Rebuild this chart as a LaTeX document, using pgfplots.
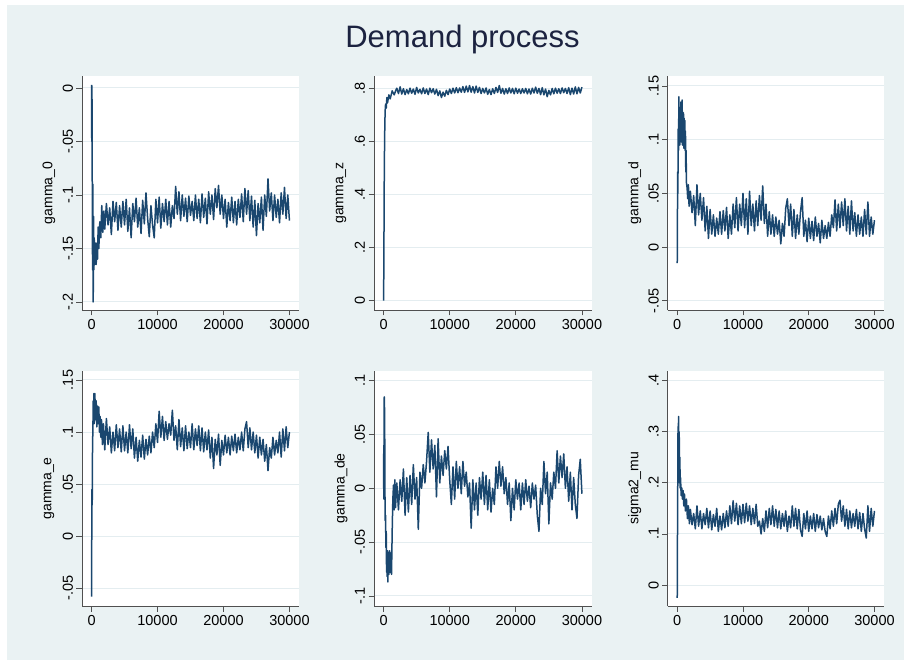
\documentclass[border=0pt]{standalone}
\usepackage{fontspec}
\setmainfont{Liberation Sans}
\usepackage{pgfplots}
\pgfplotsset{compat=1.18}
\definecolor{statabg}{HTML}{EAF2F3}
\definecolor{statanavy}{HTML}{1A476F}
\definecolor{gridc}{HTML}{E4EDF0}
\definecolor{axc}{HTML}{505050}
\definecolor{titc}{HTML}{1C2340}
\pgfplotsset{
  tr/.style={
    scale only axis, anchor=south west,
    axis lines*=left, axis line style={-, axc, line width=0.9bp},
    axis background/.style={fill=white},
    xmin=-1450, xmax=31450,
    xtick={0,10000,20000,30000}, xticklabels={0,10000,20000,30000},
    scaled x ticks=false, scaled y ticks=false,
    tick align=outside, major tick length=5.5bp,
    tick style={axc, line width=0.8bp},
    ymajorgrids, grid style={gridc, line width=1bp},
    ticklabel style={font=\fontsize{14.5bp}{16bp}\selectfont, text=black},
    yticklabel style={rotate=90, anchor=south},
    every axis y label/.style={at={(axis description cs:-0.152,0.5)}, rotate=90, anchor=center, font=\fontsize{14bp}{16bp}\selectfont, text=black},
  },
  trl/.style={statanavy, line width=1.5bp, line join=round}
}
\begin{document}
\begin{tikzpicture}
\useasboundingbox (0,0) rectangle (905bp,661bp);
\fill[white] (0,0) rectangle (905bp,661bp);
\fill[statabg] (7bp,1bp) rectangle (904bp,656bp);
\node[anchor=base, font=\fontsize{31bp}{34bp}\selectfont, text=titc] at (462.5bp,613.5bp) {Demand process};

% Panel 1: gamma_0
\begin{axis}[tr, at={(82bp,351bp)}, width=217bp, height=234bp,
  ymin=-0.2075, ymax=0.0112,
  ytick={-0.2,-0.15,-0.1,-0.05,0}, yticklabels={-.2,-.15,-.1,-.05,0},
  ylabel={gamma\_0}]
\addplot[trl] coordinates {
(0,0.003)(30,-0.05)(60,0.002)(100,-0.08)(150,-0.17)(200,-0.09)(250,-0.2)(300,-0.12)(350,-0.17)(400,-0.14)(500,-0.165)(600,-0.145)(700,-0.165)(800,-0.145)(900,-0.16)(1000,-0.13)(1100,-0.15)(1250,-0.125)(1400,-0.14)(1550,-0.11)(1700,-0.135)(1850,-0.115)
(2000,-0.132)(2250,-0.108)(2500,-0.128)(2750,-0.112)(3000,-0.137)(3250,-0.106)(3500,-0.125)(3750,-0.107)(4000,-0.133)(4250,-0.110)(4500,-0.130)(4750,-0.106)
(5000,-0.128)(5250,-0.104)(5500,-0.134)(5750,-0.112)(6000,-0.140)(6250,-0.108)(6500,-0.125)(6750,-0.103)(7000,-0.130)(7250,-0.112)(7500,-0.136)(7750,-0.105)
(8000,-0.127)(8250,-0.098)(8500,-0.122)(8750,-0.139)(9000,-0.110)(9250,-0.128)(9500,-0.140)(9750,-0.104)(10000,-0.126)(10250,-0.102)(10500,-0.131)(10750,-0.108)
(11000,-0.125)(11250,-0.104)(11500,-0.128)(11750,-0.106)(12000,-0.130)(12250,-0.110)(12500,-0.122)(12750,-0.092)(13000,-0.118)(13250,-0.097)(13500,-0.124)(13750,-0.100)
(14000,-0.120)(14250,-0.103)(14500,-0.125)(14750,-0.101)(15000,-0.119)(15250,-0.106)(15500,-0.124)(15750,-0.100)(16000,-0.122)(16250,-0.104)(16500,-0.126)(16750,-0.099)
(17000,-0.121)(17250,-0.103)(17500,-0.127)(17750,-0.097)(18000,-0.118)(18250,-0.100)(18500,-0.123)(18750,-0.094)(19000,-0.112)(19250,-0.091)(19500,-0.118)(19750,-0.100)
(20000,-0.122)(20250,-0.104)(20500,-0.130)(20750,-0.107)(21000,-0.124)(21250,-0.102)(21500,-0.126)(21750,-0.106)(22000,-0.128)(22250,-0.104)(22500,-0.121)(22750,-0.099)
(23000,-0.125)(23250,-0.094)(23500,-0.118)(23750,-0.096)(24000,-0.124)(24250,-0.101)(24500,-0.130)(24750,-0.105)(25000,-0.138)(25250,-0.108)(25500,-0.126)(25750,-0.102)
(26000,-0.133)(26250,-0.100)(26500,-0.120)(26750,-0.085)(27000,-0.115)(27250,-0.098)(27500,-0.124)(27750,-0.100)(28000,-0.121)(28250,-0.104)(28500,-0.126)(28750,-0.098)
(29000,-0.118)(29250,-0.093)(29500,-0.122)(29750,-0.100)(30000,-0.124)
};
\end{axis}

% Panel 2: gamma_z
\begin{axis}[tr, at={(374bp,351bp)}, width=217.5bp, height=234bp,
  ymin=-0.035, ymax=0.846,
  ytick={0,0.2,0.4,0.6,0.8}, yticklabels={0,.2,.4,.6,.8},
  ylabel={gamma\_z}]
\addplot[trl] coordinates {
(0,0)(30,0.1)(60,0.25)(100,0.45)(150,0.6)(200,0.68)(250,0.72)(300,0.74)(400,0.725)(500,0.765)(600,0.745)(800,0.775)(1000,0.76)(1300,0.79)(1600,0.775)(1900,0.795)
(2000,0.800)(2250,0.780)(2500,0.805)(2750,0.778)(3000,0.798)(3250,0.776)(3500,0.795)(3750,0.779)(4000,0.800)(4250,0.781)(4500,0.797)(4750,0.777)
(5000,0.803)(5250,0.782)(5500,0.796)(5750,0.779)(6000,0.801)(6250,0.780)(6500,0.797)(6750,0.776)(7000,0.800)(7250,0.783)(7500,0.798)(7750,0.778)
(8000,0.796)(8250,0.772)(8500,0.790)(8750,0.765)(9000,0.785)(9250,0.770)(9500,0.792)(9750,0.776)(10000,0.797)(10250,0.780)(10500,0.800)(10750,0.782)
(11000,0.802)(11250,0.783)(11500,0.801)(11750,0.785)(12000,0.806)(12250,0.784)(12500,0.808)(12750,0.786)(13000,0.810)(13250,0.785)(13500,0.806)(13750,0.782)
(14000,0.808)(14250,0.784)(14500,0.803)(14750,0.780)(15000,0.799)(15250,0.782)(15500,0.801)(15750,0.777)(16000,0.795)(16250,0.776)(16500,0.798)(16750,0.780)
(17000,0.803)(17250,0.784)(17500,0.810)(17750,0.781)(18000,0.799)(18250,0.778)(18500,0.798)(18750,0.780)(19000,0.801)(19250,0.782)(19500,0.799)(19750,0.779)
(20000,0.800)(20250,0.781)(20500,0.797)(20750,0.780)(21000,0.798)(21250,0.782)(21500,0.799)(21750,0.779)(22000,0.797)(22250,0.778)(22500,0.800)(22750,0.782)
(23000,0.804)(23250,0.781)(23500,0.799)(23750,0.776)(24000,0.802)(24250,0.775)(24500,0.797)(24750,0.768)(25000,0.792)(25250,0.775)(25500,0.799)(25750,0.779)
(26000,0.800)(26250,0.781)(26500,0.798)(26750,0.780)(27000,0.801)(27250,0.783)(27500,0.799)(27750,0.780)(28000,0.802)(28250,0.776)(28500,0.800)(28750,0.778)
(29000,0.805)(29250,0.779)(29500,0.803)(29750,0.782)(30000,0.804)
};
\end{axis}

% Panel 3: gamma_d
\begin{axis}[tr, at={(667.7bp,351bp)}, width=216.3bp, height=234bp,
  ymin=-0.0586, ymax=0.1593,
  ytick={-0.05,0,0.05,0.1,0.15}, yticklabels={-.05,0,.05,.1,.15},
  ylabel={gamma\_d}]
\addplot[trl] coordinates {
(0,-0.015)(30,0.02)(60,0.07)(100,0.05)(150,0.11)(200,0.09)(250,0.14)(300,0.10)(350,0.13)(400,0.095)(450,0.125)(500,0.105)(550,0.135)(600,0.098)(650,0.13)(700,0.10)(750,0.137)(800,0.095)(850,0.12)(900,0.10)(950,0.125)(1000,0.092)(1050,0.12)(1100,0.095)(1150,0.118)(1200,0.09)(1250,0.108)(1300,0.07)(1350,0.09)(1400,0.06)(1500,0.055)(1600,0.045)(1700,0.058)(1800,0.038)
(2000,0.052)(2250,0.032)(2500,0.048)(2750,0.020)(3000,0.058)(3250,0.030)(3500,0.050)(3750,0.025)(4000,0.046)(4250,0.015)(4500,0.038)(4750,0.008)
(5000,0.035)(5250,0.012)(5500,0.030)(5750,0.010)(6000,0.027)(6250,0.012)(6500,0.033)(6750,0.012)(7000,0.034)(7250,0.015)(7500,0.037)(7750,0.008)
(8000,0.030)(8250,0.012)(8500,0.040)(8750,0.018)(9000,0.046)(9250,0.015)(9500,0.040)(9750,0.020)(10000,0.050)(10250,0.018)(10500,0.045)(10750,0.012)
(11000,0.052)(11250,0.020)(11500,0.040)(11750,0.015)(12000,0.043)(12250,0.020)(12500,0.048)(12750,0.025)(13000,0.057)(13250,0.022)(13500,0.040)(13750,0.010)
(14000,0.033)(14250,0.012)(14500,0.030)(14750,0.010)(15000,0.028)(15250,0.012)(15500,0.025)(15750,0.003)(16000,0.022)(16250,0.010)(16500,0.036)(16750,0.045)
(17000,0.020)(17250,0.040)(17500,0.010)(17750,0.035)(18000,0.008)(18250,0.030)(18500,0.012)(18750,0.033)(19000,0.046)(19250,0.010)(19500,0.025)(19750,0.005)
(20000,0.027)(20250,0.008)(20500,0.024)(20750,0.006)(21000,0.028)(21250,0.010)(21500,0.022)(21750,0.004)(22000,0.025)(22250,0.008)(22500,0.020)(22750,0.008)
(23000,0.023)(23250,0.010)(23500,0.030)(23750,0.018)(24000,0.044)(24250,0.015)(24500,0.040)(24750,0.018)(25000,0.042)(25250,0.020)(25500,0.045)(25750,0.015)
(26000,0.038)(26250,0.012)(26500,0.043)(26750,0.015)(27000,0.032)(27250,0.010)(27500,0.030)(27750,0.012)(28000,0.028)(28250,0.010)(28500,0.035)(28750,0.012)
(29000,0.042)(29250,0.010)(29500,0.028)(29750,0.012)(30000,0.025)
};
\end{axis}

% Panel 4: gamma_e
\begin{axis}[tr, at={(82bp,55bp)}, width=217bp, height=235.3bp,
  ymin=-0.067, ymax=0.1589,
  ytick={-0.05,0,0.05,0.1,0.15}, yticklabels={-.05,0,.05,.1,.15},
  ylabel={gamma\_e}]
\addplot[trl] coordinates {
(0,-0.058)(30,0.0)(60,0.045)(100,0.03)(150,0.09)(200,0.1)(250,0.13)(300,0.11)(350,0.137)(400,0.108)(500,0.137)(600,0.112)(700,0.13)(800,0.105)(900,0.125)(1000,0.108)(1100,0.124)(1200,0.10)(1300,0.115)(1400,0.095)(1500,0.112)(1650,0.088)(1800,0.108)
(2000,0.083)(2250,0.113)(2500,0.088)(2750,0.105)(3000,0.080)(3250,0.100)(3500,0.082)(3750,0.107)(4000,0.085)(4250,0.103)(4500,0.081)(4750,0.106)
(5000,0.082)(5250,0.100)(5500,0.080)(5750,0.107)(6000,0.084)(6250,0.103)(6500,0.075)(6750,0.095)(7000,0.072)(7250,0.092)(7500,0.076)(7750,0.097)
(8000,0.074)(8250,0.093)(8500,0.078)(8750,0.096)(9000,0.080)(9250,0.100)(9500,0.085)(9750,0.108)(10000,0.090)(10250,0.120)(10500,0.095)(10750,0.115)
(11000,0.092)(11250,0.110)(11500,0.093)(11750,0.108)(12000,0.097)(12250,0.121)(12500,0.092)(12750,0.106)(13000,0.083)(13250,0.112)(13500,0.086)(13750,0.104)
(14000,0.082)(14250,0.106)(14500,0.084)(14750,0.100)(15000,0.085)(15250,0.108)(15500,0.083)(15750,0.103)(16000,0.087)(16250,0.106)(16500,0.082)(16750,0.104)
(17000,0.081)(17250,0.100)(17500,0.083)(17750,0.102)(18000,0.075)(18250,0.095)(18500,0.065)(18750,0.093)(19000,0.078)(19250,0.098)(19500,0.068)(19750,0.092)
(20000,0.078)(20250,0.097)(20500,0.080)(20750,0.095)(21000,0.078)(21250,0.096)(21500,0.082)(21750,0.098)(22000,0.080)(22250,0.095)(22500,0.083)(22750,0.100)
(23000,0.082)(23250,0.103)(23500,0.110)(23750,0.085)(24000,0.104)(24250,0.083)(24500,0.100)(24750,0.080)(25000,0.097)(25250,0.075)(25500,0.095)(25750,0.078)
(26000,0.093)(26250,0.072)(26500,0.088)(26750,0.063)(27000,0.085)(27250,0.075)(27500,0.095)(27750,0.078)(28000,0.092)(28250,0.080)(28500,0.100)(28750,0.076)
(29000,0.103)(29250,0.082)(29500,0.105)(29750,0.085)(30000,0.100)
};
\end{axis}

% Panel 5: gamma_de
\begin{axis}[tr, at={(374bp,55bp)}, width=217.5bp, height=235.3bp,
  ymin=-0.1093, ymax=0.1093,
  ytick={-0.1,-0.05,0,0.05,0.1}, yticklabels={-.1,-.05,0,.05,.1},
  ylabel={gamma\_de}]
\addplot[trl] coordinates {
(0,0.0)(30,0.04)(60,-0.01)(100,0.085)(130,0.03)(160,0.075)(200,0.0)(250,-0.03)(300,-0.025)(350,-0.055)(400,-0.04)(450,-0.078)(500,-0.06)(550,-0.082)(600,-0.058)(650,-0.087)(700,-0.065)(800,-0.08)(900,-0.058)(1000,-0.078)(1100,-0.06)(1200,-0.08)(1300,-0.04)(1400,-0.01)(1500,0.003)(1600,-0.02)(1700,0.008)(1800,-0.018)
(2000,0.005)(2250,-0.02)(2500,0.008)(2750,-0.012)(3000,0.018)(3250,-0.025)(3500,0.01)(3750,-0.022)(4000,0.012)(4250,-0.015)(4500,0.022)(4750,-0.01)
(5000,0.01)(5250,-0.038)(5500,0.015)(5750,0.0)(6000,0.022)(6250,0.005)(6500,0.025)(6750,0.052)(7000,0.015)(7250,0.045)(7500,0.018)(7750,0.04)
(8000,-0.008)(8250,0.046)(8500,0.005)(8750,0.03)(9000,0.012)(9250,0.035)(9500,0.018)(9750,0.039)(10000,0.008)(10250,-0.015)(10500,0.02)(10750,-0.01)
(11000,0.025)(11250,0.0)(11500,0.02)(11750,-0.005)(12000,0.025)(12250,0.002)(12500,0.015)(12750,-0.008)(13000,0.005)(13250,-0.037)(13500,0.008)(13750,-0.02)
(14000,0.005)(14250,-0.025)(14500,0.01)(14750,-0.01)(15000,0.015)(15250,-0.015)(15500,0.012)(15750,-0.02)(16000,0.008)(16250,-0.022)(16500,0.0)(16750,-0.015)
(17000,0.02)(17250,0.0)(17500,0.025)(17750,0.002)(18000,0.02)(18250,-0.005)(18500,0.01)(18750,-0.015)(19000,0.005)(19250,-0.03)(19500,0.0)(19750,-0.02)
(20000,0.008)(20250,-0.01)(20500,0.005)(20750,-0.02)(21000,0.005)(21250,-0.015)(21500,0.008)(21750,-0.012)(22000,0.002)(22250,-0.018)(22500,0.005)(22750,-0.01)
(23000,0.003)(23250,-0.025)(23500,-0.04)(23750,0.0)(24000,-0.015)(24250,0.025)(24500,-0.005)(24750,0.015)(25000,-0.033)(25250,0.005)(25500,-0.01)(25750,0.015)
(26000,0.0)(26250,0.035)(26500,0.005)(26750,0.03)(27000,0.01)(27250,0.032)(27500,0.0)(27750,0.02)(28000,-0.012)(28250,0.015)(28500,-0.02)(28750,0.01)
(29000,-0.015)(29250,-0.028)(29500,0.012)(29750,0.027)(30000,-0.005)
};
\end{axis}

% Panel 6: sigma2_mu
\begin{axis}[tr, at={(667.7bp,55bp)}, width=216.3bp, height=235.3bp,
  ymin=-0.0411, ymax=0.4196,
  ytick={0,0.1,0.2,0.3,0.4}, yticklabels={0,.1,.2,.3,.4},
  ylabel={sigma2\_mu}]
\addplot[trl] coordinates {
(0,-0.025)(40,0.1)(80,0.2)(120,0.31)(160,0.27)(200,0.33)(250,0.23)(300,0.3)(350,0.2)(400,0.25)(450,0.19)(500,0.21)(600,0.175)(700,0.19)(800,0.168)(900,0.185)(1000,0.155)(1100,0.178)(1250,0.145)(1400,0.168)(1550,0.13)(1700,0.155)(1850,0.12)
(2000,0.148)(2250,0.118)(2500,0.14)(2750,0.11)(3000,0.155)(3250,0.115)(3500,0.145)(3750,0.11)(4000,0.14)(4250,0.118)(4500,0.15)(4750,0.112)
(5000,0.145)(5250,0.108)(5500,0.138)(5750,0.115)(6000,0.15)(6250,0.105)(6500,0.135)(6750,0.108)(7000,0.14)(7250,0.112)(7500,0.145)(7750,0.115)
(8000,0.155)(8250,0.12)(8500,0.165)(8750,0.125)(9000,0.16)(9250,0.118)(9500,0.155)(9750,0.12)(10000,0.158)(10250,0.122)(10500,0.16)(10750,0.125)
(11000,0.155)(11250,0.118)(11500,0.15)(11750,0.12)(12000,0.158)(12250,0.115)(12500,0.125)(12750,0.10)(13000,0.13)(13250,0.105)(13500,0.145)(13750,0.112)
(14000,0.15)(14250,0.118)(14500,0.155)(14750,0.115)(15000,0.148)(15250,0.112)(15500,0.145)(15750,0.11)(16000,0.14)(16250,0.115)(16500,0.145)(16750,0.105)
(17000,0.135)(17250,0.112)(17500,0.155)(17750,0.115)(18000,0.15)(18250,0.11)(18500,0.148)(18750,0.108)(19000,0.095)(19250,0.14)(19500,0.11)(19750,0.145)
(20000,0.105)(20250,0.135)(20500,0.11)(20750,0.14)(21000,0.105)(21250,0.138)(21500,0.112)(21750,0.135)(22000,0.108)(22250,0.13)(22500,0.105)(22750,0.095)
(23000,0.135)(23250,0.11)(23500,0.145)(23750,0.115)(24000,0.15)(24250,0.12)(24500,0.158)(24750,0.166)(25000,0.125)(25250,0.155)(25500,0.115)(25750,0.148)
(26000,0.11)(26250,0.145)(26500,0.112)(26750,0.14)(27000,0.115)(27250,0.148)(27500,0.11)(27750,0.142)(28000,0.105)(28250,0.14)(28500,0.11)(28750,0.092)
(29000,0.155)(29250,0.105)(29500,0.15)(29750,0.115)(30000,0.145)
};
\end{axis}
\end{tikzpicture}
\end{document}
